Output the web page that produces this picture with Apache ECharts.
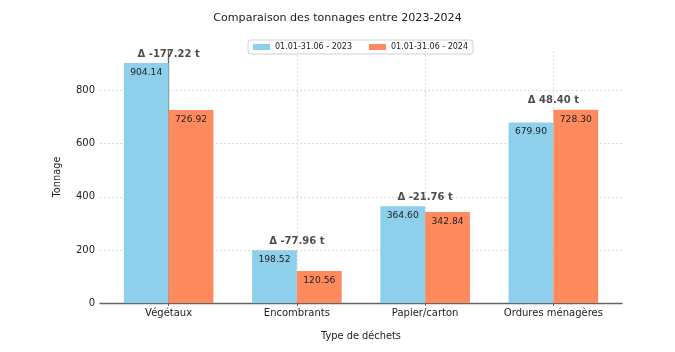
<!DOCTYPE html>
<html>
<head>
<meta charset="utf-8">
<script src="https://cdn.jsdelivr.net/npm/echarts@6/dist/echarts.min.js"></script>
<style>html,body{margin:0;padding:0;background:#fff}#c{width:675px;height:352px}</style>
</head>
<body>
<div id="c"></div>
<script>
const categories = ['Végétaux', 'Encombrants', 'Papier/carton', 'Ordures ménagères'];
const values2023 = [904.14, 198.52, 364.60, 679.90];
const values2024 = [726.92, 120.56, 342.84, 728.30];
const seriesNames = ['01.01-31.06 - 2023', '01.01-31.06 - 2024'];
const yTicks = [0, 200, 400, 600, 800];

const font = 'DejaVu Sans';
const idx = categories.map((_, i) => i);
const deltas = values2024.map((v, i) => v - values2023[i]);

const chart = echarts.init(document.getElementById('c'), null, {renderer: 'canvas'});
const valueLabel = {
  show: true, position: 'insideTop', distance: 5,
  fontFamily: font, fontSize: 9.2, color: '#222',
  formatter: p => p.value[1].toFixed(2)
};
chart.setOption({
  animation: false,
  backgroundColor: '#fff',
  textStyle: {fontFamily: font},
  title: {
    text: 'Comparaison des tonnages entre 2023-2024',
    left: 'center', top: 8,
    textStyle: {fontFamily: font, fontSize: 11.1, fontWeight: 'normal', color: '#222'}
  },
  legend: {
    left: 248, top: 40,
    padding: [3, 5, 3, 5],
    borderColor: '#d0d0d0', borderWidth: 1, borderRadius: 3,
    icon: 'rect', itemWidth: 17, itemHeight: 6, itemGap: 17,
    textStyle: {fontFamily: font, fontSize: 8, color: '#222'},
    data: seriesNames
  },
  grid: {left: 100, right: 53, top: 51, bottom: 49},
  xAxis: {
    type: 'value', min: -0.535, max: 3.535,
    name: 'Type de déchets', nameLocation: 'middle', nameGap: 28,
    nameTextStyle: {fontFamily: font, fontSize: 9.8, color: '#222'},
    axisLine: {show: true, lineStyle: {color: '#666', width: 1.3}},
    axisTick: {show: true, length: 3, customValues: idx, lineStyle: {color: '#666'}},
    axisLabel: {customValues: idx, margin: 5, fontFamily: font, fontSize: 10, color: '#222',
      formatter: v => categories[Math.round(v)]},
    splitLine: {show: true, lineStyle: {color: '#d4d4d4', type: [2, 2], width: 0.8}}
  },
  yAxis: {
    type: 'value', min: 0, max: 949.35,
    name: 'Tonnage', nameLocation: 'middle', nameGap: 38,
    nameTextStyle: {fontFamily: font, fontSize: 9.8, color: '#222'},
    axisLine: {show: true, lineStyle: {color: '#666', width: 1.3}},
    axisTick: {show: true, length: 3, customValues: yTicks, lineStyle: {color: '#666'}},
    axisLabel: {customValues: yTicks, margin: 5, fontFamily: font, fontSize: 10, color: '#222'},
    splitLine: {show: true, lineStyle: {color: '#d4d4d4', type: [2, 2], width: 0.8}}
  },
  series: [
    {
      name: seriesNames[0], type: 'bar', barWidth: 44.8, barGap: '0%',
      itemStyle: {color: '#8ED0EC'},
      label: valueLabel,
      data: idx.map(i => [i, values2023[i]])
    },
    {
      name: seriesNames[1], type: 'bar', barWidth: 44.8, barGap: '0%',
      itemStyle: {color: '#FF8A5E'},
      label: valueLabel,
      data: idx.map(i => [i, values2024[i]])
    },
    {
      name: 'delta', type: 'scatter', symbolSize: 0, silent: true,
      label: {
        show: true, position: 'top', distance: 4,
        fontFamily: font, fontSize: 10, fontWeight: 'bold', color: '#222',
        formatter: p => 'Δ ' + deltas[p.dataIndex].toFixed(2) + ' t'
      },
      data: idx.map(i => [i, Math.max(values2023[i], values2024[i])])
    }
  ]
});
</script>
</body>
</html>
